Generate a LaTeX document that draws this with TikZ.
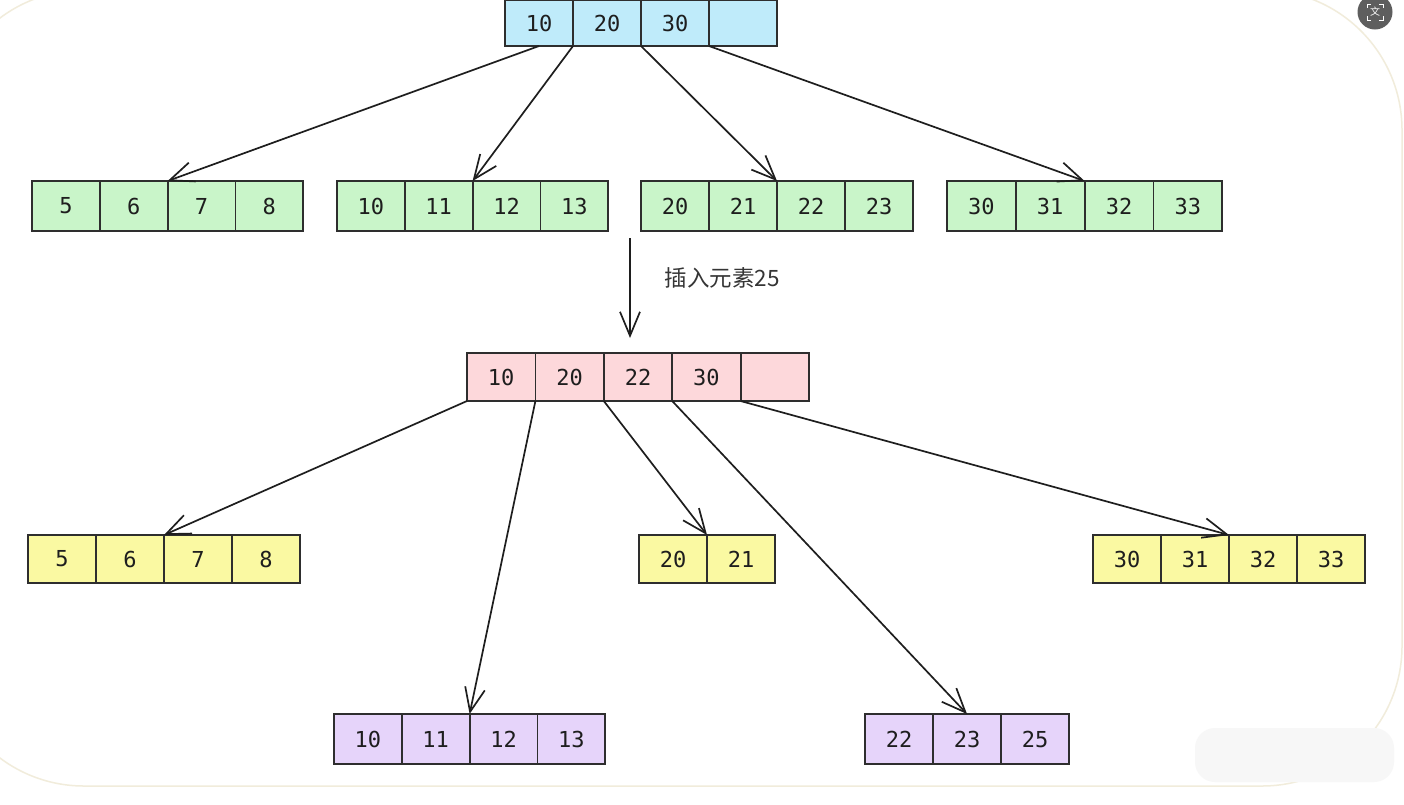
\documentclass[tikz,border=0pt]{standalone}
\usepackage{fontspec}
\usetikzlibrary{arrows.meta,calc}
\newfontfamily\monof{DejaVu Sans Mono}
\newfontfamily\cjk{Noto Sans CJK SC}
\definecolor{cblue}{HTML}{BFEBFA}
\definecolor{cgreen}{HTML}{C9F5C9}
\definecolor{cpink}{HTML}{FDD8DB}
\definecolor{cyellow}{HTML}{FAF9A2}
\definecolor{cpurple}{HTML}{E6D4FA}
\definecolor{cline}{HTML}{2E2E2E}
\definecolor{ctext}{HTML}{1E1E1E}
\definecolor{cframe}{HTML}{F1ECDB}
\definecolor{cicon}{HTML}{5E5E5E}
\tikzset{
  cell/.style={draw=cline, line width=1.8pt, inner sep=0pt, outer sep=0pt,
    font=\monof\fontsize{22}{22}\selectfont, text=ctext},
  ptr/.style={draw=ctext, line width=1.7pt, -{Straight Barb[length=24pt,width=20pt,line width=1.7pt]}},
}
\newcommand\cellrow[7]{%
  \foreach \v [count=\i] in {#7} {
    \node[cell, fill=#6, minimum width=#4pt, minimum height=#5pt, anchor=north west]
      (#1\i) at ({#2+#4*(\i-1)}, #3) {\v};
  }}
\begin{document}
\begin{tikzpicture}[x=1pt, y=-1pt]
\useasboundingbox (0,0) rectangle (1404,804);
\fill[white] (0,0) rectangle (1404,804);
% background frame
\draw[cframe, line width=1.5pt, rounded corners=140pt] (-56,-10) rectangle (1402,786);
% blurred watermark patch
\fill[black!3, rounded corners=20pt] (1195,728) rectangle (1394,782);
% icon
\node[circle, fill=cicon, minimum size=35pt, inner sep=0pt] (icon) at (1375,12) {};
\node[text=white, font=\cjk\fontsize{10}{10}\selectfont] (icontxt) at (icon) {文};
\foreach \sx/\sy in {-1/-1,1/-1,-1/1,1/1}
  \draw[white, line width=1pt] ($(icon)+(\sx*8,\sy*4)$) -- ($(icon)+(\sx*8,\sy*8)$) -- ($(icon)+(\sx*4,\sy*8)$);
% rows
\cellrow{t}{505}{0}{68}{46}{cblue}{10,20,30,{}}
\cellrow{ga}{32}{181}{67.8}{50}{cgreen}{5,6,7,8}
\cellrow{gb}{337}{181}{67.8}{50}{cgreen}{10,11,12,13}
\cellrow{gc}{641}{181}{68}{50}{cgreen}{20,21,22,23}
\cellrow{gd}{947}{181}{68.8}{50}{cgreen}{30,31,32,33}
\cellrow{p}{467}{353}{68.4}{48}{cpink}{10,20,22,30,{}}
\cellrow{ya}{28}{535}{68}{48}{cyellow}{5,6,7,8}
\cellrow{yb}{639}{535}{68}{48}{cyellow}{20,21}
\cellrow{yc}{1093}{535}{68}{48}{cyellow}{30,31,32,33}
\cellrow{qa}{334}{714}{67.8}{50}{cpurple}{10,11,12,13}
\cellrow{qb}{865}{714}{68}{50}{cpurple}{22,23,25}
% top pointers
\draw[ptr] (t1.south) -- (ga3.north west);
\draw[ptr] (t1.south east) -- (gb3.north west);
\draw[ptr] (t2.south east) -- (gc3.north west);
\draw[ptr] (t3.south east) -- (gd3.north west);
% insert arrow
\coordinate (ins1) at (630,238);
\coordinate (ins2) at (630,338);
\draw[ptr] (ins1) -- (ins2);
\node[anchor=west, text=ctext!90, font=\cjk\fontsize{22.5}{22.5}\selectfont] (lbl) at (661,278) {插入元素25};
% bottom pointers
\draw[ptr] (p1.south west) -- (ya3.north west);
\draw[ptr] (p1.south east) -- (qa3.north west);
\draw[ptr] (p2.south east) -- (yb2.north west);
\draw[ptr] (p3.south east) -- (qb2.north);
\draw[ptr] (p4.south east) -- (yc3.north west);
\end{tikzpicture}
\end{document}
